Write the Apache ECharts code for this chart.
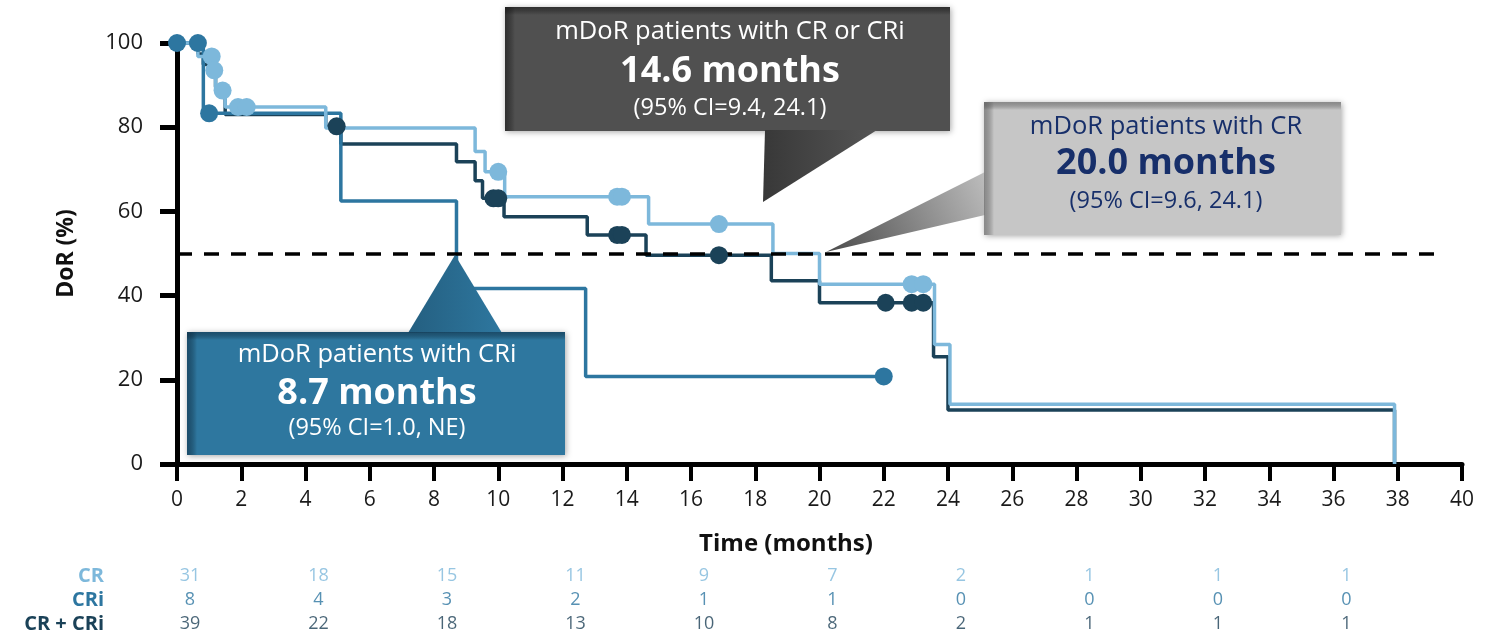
<!DOCTYPE html>
<html>
<head>
<meta charset="utf-8">
<script src="https://cdn.jsdelivr.net/npm/echarts@6/dist/echarts.min.js"></script>
<style>
  html, body { margin: 0; padding: 0; background: #ffffff; }
  #chart { width: 1493px; height: 638px; }
</style>
</head>
<body>
<div id="chart"></div>
<script>
// Kaplan–Meier steps: [time in months, DoR % after the event]
const crSteps = [[0,100],[0.65,96.8],[1.12,93.5],[1.2,88.7],[1.5,84.8],[4.63,79.8],[9.28,74.2],[9.59,69.4],[10.2,63.5],[14.68,57.0],[18.55,50.0],[20.0,42.7],[23.58,28.4],[24.06,14.2],[37.9,0]];
const criSteps = [[0,100],[0.82,83.3],[5.1,62.5],[8.7,41.7],[12.72,20.8],[22.0,20.8]];
const allSteps = [[0,100],[0.65,97.4],[0.82,94.9],[1.12,92.3],[1.2,89.6],[1.5,83.0],[4.63,80.2],[5.1,76.0],[8.7,71.8],[9.28,67.3],[9.51,63.1],[10.18,58.7],[12.77,54.4],[14.6,49.6],[18.5,43.5],[20.0,38.3],[23.55,25.5],[24.0,12.8],[37.9,0]];

// Censored observations
const crCensored = [[1.08,96.8],[1.16,93.5],[1.42,88.7],[1.9,84.8],[2.17,84.8],[10.0,69.4],[13.7,63.5],[13.85,63.5],[16.87,57.0],[22.87,42.7],[23.23,42.7]];
const criCensored = [[0,100],[0.65,100],[1.0,83.3],[22.0,20.8]];
const allCensored = [[4.97,80.2],[9.85,63.1],[10.0,63.1],[13.7,54.4],[13.85,54.4],[16.87,49.6],[22.06,38.3],[22.87,38.3],[23.23,38.3]];

// Number at risk
const riskTimes = [0,4,8,12,16,20,24,28,32,36];
const riskRows = ['CR','CRi','CR + CRi'];
const riskCR = [31,18,15,11,9,7,2,1,1,1];
const riskCRi = [8,4,3,2,1,1,0,0,0,0];
const riskAll = [39,22,18,13,10,8,2,1,1,1];

const medianLevel = 50;

const C_CR = '#7DB8DB', C_CRI = '#2D76A0', C_ALL = '#1B4258';
const FONT = '"Open Sans", "Noto Sans", sans-serif';

const chart = echarts.init(document.getElementById('chart'), null, { renderer: 'canvas' });

function riskData(values, row) {
  return riskTimes.map((t, i) => [t, row, values[i]]);
}

function stepSeries(data, color, z) {
  return {
    type: 'line', step: 'end', data: data, showSymbol: false, symbol: 'none',
    clip: false, z: z, silent: true,
    lineStyle: { color: color, width: 3.5 }
  };
}
function censorSeries(data, color, z) {
  return {
    type: 'scatter', data: data, symbol: 'circle', symbolSize: 18,
    clip: false, z: z, silent: true,
    itemStyle: { color: color, opacity: 1 }
  };
}
function riskSeries(values, row, color) {
  return {
    type: 'scatter', xAxisIndex: 1, yAxisIndex: 1, data: riskData(values, row),
    symbolSize: 0, silent: true,
    label: {
      show: true, position: 'inside', offset: [13, 0],
      formatter: p => String(p.value[2]),
      color: color, fontSize: 18, fontFamily: FONT
    }
  };
}

// Callout boxes with a shaded inner edge and a pointer tail
function callout(box, tail, fill, tailFill, edge, lines, textColor, cx) {
  const els = [
    { type: 'polygon', shape: { points: tail }, style: { fill: tailFill }, z: 100 },
    { type: 'rect', shape: box, style: { fill: fill, shadowBlur: 6, shadowColor: 'rgba(0,0,0,0.35)', shadowOffsetX: 1, shadowOffsetY: 1 }, z: 99 },
    { type: 'rect', shape: { x: box.x, y: box.y, width: 10, height: box.height },
      style: { fill: new echarts.graphic.LinearGradient(0, 0, 1, 0, [{ offset: 0, color: edge }, { offset: 1, color: 'rgba(0,0,0,0)' }]) }, z: 101 },
    { type: 'rect', shape: { x: box.x, y: box.y, width: box.width, height: 8 },
      style: { fill: new echarts.graphic.LinearGradient(0, 0, 0, 1, [{ offset: 0, color: edge }, { offset: 1, color: 'rgba(0,0,0,0)' }]) }, z: 101 }
  ];
  lines.forEach(l => {
    els.push({
      type: 'text', x: cx, y: l.y, z: 102,
      style: {
        text: l.text, fill: textColor, font: (l.bold ? 'bold ' : '') + l.size + 'px ' + FONT,
        textAlign: 'center', textVerticalAlign: 'middle'
      }
    });
  });
  return els;
}

const grad = (x0, y0, x1, y1, c0, c1) =>
  new echarts.graphic.LinearGradient(x0, y0, x1, y1, [{ offset: 0, color: c0 }, { offset: 1, color: c1 }]);

const graphics = [].concat(
  callout({ x: 505, y: 7, width: 445, height: 124 }, [[765,130],[877,130],[763,202]],
    '#505050', grad(0, 0, 1, 0, '#383838', '#555555'), 'rgba(20,20,20,0.55)',
    [{ text: 'mDoR patients with CR or CRi', y: 32, size: 25.5 },
     { text: '14.6 months', y: 72, size: 36, bold: true },
     { text: '(95% CI=9.4, 24.1)', y: 108, size: 23.5 }], '#ffffff', 730),
  callout({ x: 984, y: 102, width: 357, height: 133 }, [[985,172],[985,215],[826,252]],
    '#C6C6C6', grad(0, 1, 1, 0, '#4a4a4a', '#bdbdbd'), 'rgba(90,90,90,0.55)',
    [{ text: 'mDoR patients with CR', y: 127, size: 25.5 },
     { text: '20.0 months', y: 164, size: 36, bold: true },
     { text: '(95% CI=9.6, 24.1)', y: 201, size: 23.5 }], '#172F6A', 1166),
  callout({ x: 187, y: 332, width: 378, height: 123 }, [[408,333],[502,333],[455,255]],
    '#2E779F', grad(0, 0, 1, 0, '#245f80', '#2E779F'), 'rgba(15,50,75,0.6)',
    [{ text: 'mDoR patients with CRi', y: 355, size: 25.5 },
     { text: '8.7 months', y: 394, size: 36, bold: true },
     { text: '(95% CI=1.0, NE)', y: 428, size: 23.5 }], '#ffffff', 377)
);

const option = {
  animation: false,
  backgroundColor: '#ffffff',
  textStyle: { fontFamily: FONT },
  grid: [
    { left: 177, right: 31, top: 43, bottom: 174 },
    { left: 177, right: 31, top: 564, height: 72 }
  ],
  xAxis: [
    {
      type: 'value', gridIndex: 0, min: 0, max: 40, interval: 2,
      axisLine: { show: true, onZero: false, lineStyle: { color: '#000', width: 5 } },
      axisTick: { show: true, length: 17, lineStyle: { color: '#000', width: 4 } },
      axisLabel: { fontSize: 21, color: '#1a1a1a', margin: 26, fontFamily: FONT },
      splitLine: { show: false },
      name: 'Time (months)', nameLocation: 'middle', nameGap: 68,
      nameTextStyle: { fontWeight: 'bold', fontSize: 24, color: '#111', fontFamily: FONT, padding: [0, 67, 0, 0] }
    },
    { type: 'value', gridIndex: 1, min: 0, max: 40, show: false }
  ],
  yAxis: [
    {
      type: 'value', gridIndex: 0, min: 0, max: 100, interval: 20,
      axisLine: { show: true, lineStyle: { color: '#000', width: 5 } },
      axisTick: { show: true, length: 17, lineStyle: { color: '#000', width: 5 } },
      axisLabel: { fontSize: 22, color: '#1a1a1a', margin: 34, fontFamily: FONT },
      splitLine: { show: false },
      name: 'DoR (%)', nameLocation: 'middle', nameGap: 99, nameRotate: 90,
      nameTextStyle: { fontWeight: 'bold', fontSize: 23, color: '#111', fontFamily: FONT }
    },
    {
      type: 'category', gridIndex: 1, data: riskRows, inverse: true,
      axisLine: { show: false }, axisTick: { show: false }, splitLine: { show: false },
      axisLabel: {
        interval: 0, hideOverlap: false,
        margin: 73, fontSize: 20, fontWeight: 'bold', fontFamily: FONT,
        color: (v) => v === 'CR' ? C_CR : (v === 'CRi' ? C_CRI : C_ALL)
      }
    }
  ],
  series: [
    stepSeries(allSteps, C_ALL, 2),
    stepSeries(criSteps, C_CRI, 3),
    stepSeries(crSteps, C_CR, 4),
    {
      type: 'line', data: [], silent: true, z: 5,
      markLine: {
        silent: true, symbol: 'none', label: { show: false },
        lineStyle: { color: '#000', width: 3.5, type: [15, 12] },
        data: [[{ coord: [0, medianLevel] }, { coord: [39.5, medianLevel] }]]
      }
    },
    censorSeries(allCensored, C_ALL, 6),
    censorSeries(criCensored, C_CRI, 7),
    censorSeries(crCensored, C_CR, 8),
    riskSeries(riskCR, 'CR', C_CR),
    riskSeries(riskCRi, 'CRi', C_CRI),
    riskSeries(riskAll, 'CR + CRi', '#1B3F55')
  ],
  graphic: graphics
};

chart.setOption(option);
</script>
</body>
</html>
